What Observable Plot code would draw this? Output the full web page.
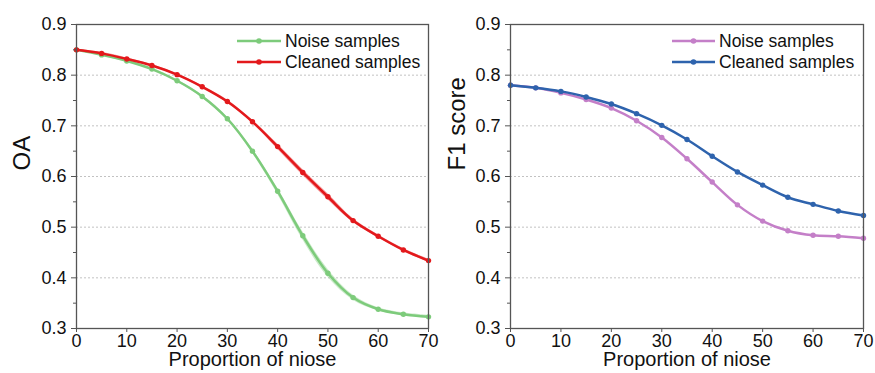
<!DOCTYPE html>
<html><head><meta charset="utf-8">
<script src="https://cdn.jsdelivr.net/npm/d3@7"></script>
<script src="https://cdn.jsdelivr.net/npm/@observablehq/plot@0.6"></script>
<style>
body{margin:0;background:#fff;font-family:"Liberation Sans",Arial,sans-serif}
#wrap{position:relative;width:875px;height:373px;overflow:hidden;background:#fff}
.panel{position:absolute;top:0}
.legend{position:absolute;font-size:17.5px;color:#111;line-height:20px;font-family:"Liberation Sans",Arial,sans-serif}
</style></head><body><div id="wrap"></div>
<script>
// ---- data ----
const noiseRatio = [0, 5, 10, 15, 20, 25, 30, 35, 40, 45, 50, 55, 60, 65, 70];
const oaNoise    = [0.850, 0.840, 0.828, 0.812, 0.789, 0.758, 0.714, 0.650, 0.571, 0.483, 0.409, 0.361, 0.338, 0.328, 0.323];
const oaNoiseSpread = [0.001, 0.002, 0.002, 0.002, 0.002, 0.003, 0.003, 0.004, 0.006, 0.008, 0.008, 0.005, 0.003, 0.003, 0.003];
const oaCleaned  = [0.850, 0.843, 0.832, 0.819, 0.801, 0.777, 0.748, 0.708, 0.659, 0.608, 0.560, 0.513, 0.482, 0.455, 0.434];
const oaCleanedSpread = [0.001, 0.002, 0.002, 0.002, 0.002, 0.002, 0.003, 0.003, 0.005, 0.006, 0.006, 0.004, 0.003, 0.003, 0.003];
const f1Noise    = [0.780, 0.775, 0.765, 0.752, 0.735, 0.710, 0.677, 0.635, 0.589, 0.544, 0.512, 0.493, 0.484, 0.482, 0.478];
const f1Cleaned  = [0.780, 0.775, 0.768, 0.757, 0.743, 0.724, 0.701, 0.673, 0.640, 0.609, 0.583, 0.559, 0.545, 0.532, 0.523];
const seriesNames = ["Noise samples", "Cleaned samples"];
const xTicks = [0, 10, 20, 30, 40, 50, 60, 70];
const yTicks = [0.3, 0.4, 0.5, 0.6, 0.7, 0.8, 0.9];
const yGrid = [0.4, 0.5, 0.6, 0.7, 0.8];
const yMinorTicks = [0.35, 0.45, 0.55, 0.65, 0.75, 0.85];
const xLabel = "Proportion of niose";

const panels = [
  {left: 0, width: 440, marginLeft: 76, yLabel: "OA", labelDx: -54,
   series: [
     {name: seriesNames[0], values: oaNoise, spread: oaNoiseSpread, color: "#7dcb7b"},
     {name: seriesNames[1], values: oaCleaned, spread: oaCleanedSpread, color: "#e3191c"}
   ],
   legend: {x: 237, y: 31, lineW: 44}},
  {left: 440, width: 435, marginLeft: 70, yLabel: "F1 score", labelDx: -53,
   series: [
     {name: seriesNames[0], values: f1Noise, spread: null, color: "#c47fc8"},
     {name: seriesNames[1], values: f1Cleaned, spread: null, color: "#2e63ad"}
   ],
   legend: {x: 672, y: 31, lineW: 43}}
];

const wrap = document.getElementById("wrap");
const font = "'Liberation Sans', Arial, sans-serif";

for (const p of panels) {
  const marks = [
    Plot.gridY(yGrid, {stroke: "#aaa", strokeOpacity: 0.9, strokeDasharray: "2,2", strokeWidth: 0.8}),
  ];
  for (const s of p.series) {
    const rows = noiseRatio.map((x, i) => ({x, y: s.values[i], lo: s.values[i] - (s.spread ? s.spread[i] : 0), hi: s.values[i] + (s.spread ? s.spread[i] : 0)}));
    if (s.spread) marks.push(Plot.areaY(rows, {x: "x", y1: "lo", y2: "hi", fill: s.color, fillOpacity: 0.4, curve: "catmull-rom"}));
    marks.push(Plot.lineY(rows, {x: "x", y: "y", stroke: s.color, strokeWidth: 2.5, curve: "catmull-rom"}));
    marks.push(Plot.dot(rows, {x: "x", y: "y", r: 2.7, fill: s.color}));
  }
  marks.push(
    Plot.axisY({ticks: yMinorTicks, tickSize: 3, tickFormat: () => "", stroke: "#555", label: null}),
    Plot.axisY({ticks: yTicks, tickSize: 5, tickPadding: 5, tickFormat: d3.format(".1f"), stroke: "#555", fill: "#111", fontSize: 18, label: null}),
    Plot.axisX({ticks: xTicks, tickSize: 4, tickPadding: 2, stroke: "#555", fill: "#111", fontSize: 18, label: null}),
    Plot.frame({stroke: "#555", strokeWidth: 1.3}),
    Plot.text([p.yLabel], {frameAnchor: "left", dx: p.labelDx, dy: -6, rotate: -90, fontSize: 24, fill: "#111", text: d => d}),
    Plot.text([xLabel], {frameAnchor: "bottom", dy: 37, fontSize: 20, fill: "#111", text: d => d})
  );
  const chart = Plot.plot({
    width: p.width, height: 373,
    marginLeft: p.marginLeft, marginRight: 12, marginTop: 24, marginBottom: 45,
    x: {domain: [0, 70]},
    y: {domain: [0.3, 0.9]},
    style: {fontFamily: font, fontSize: "18px", background: "transparent", overflow: "visible"},
    marks
  });
  chart.classList.add("panel");
  chart.style.left = p.left + "px";
  wrap.appendChild(chart);

  // legend
  p.series.forEach((s, i) => {
    const d = document.createElement("div");
    d.className = "legend";
    d.style.left = p.legend.x + "px";
    d.style.top = (p.legend.y + i * 21) + "px";
    d.style.display = "flex";
    d.style.alignItems = "center";
    d.innerHTML = `<svg width="${p.legend.lineW}" height="20" style="margin-right:4px"><line x1="0" x2="${p.legend.lineW}" y1="10" y2="10" stroke="${s.color}" stroke-width="2.6"/><circle cx="${p.legend.lineW/2}" cy="10" r="2.8" fill="${s.color}"/></svg><span>${s.name}</span>`;
    wrap.appendChild(d);
  });
}
</script></body></html>
